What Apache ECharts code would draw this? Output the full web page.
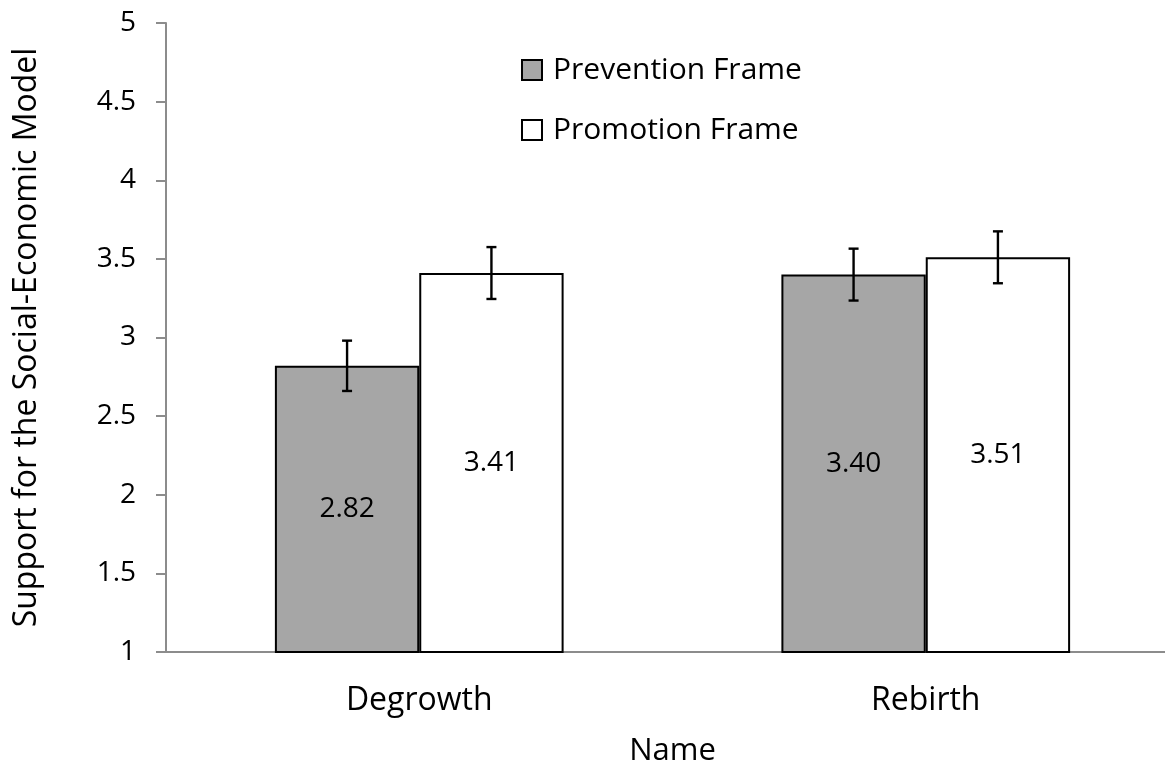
<!DOCTYPE html>
<html>
<head>
<meta charset="utf-8">
<script src="https://cdn.jsdelivr.net/npm/echarts@6/dist/echarts.min.js"></script>
<style>
html,body{margin:0;padding:0;background:#fff;}
#chart{width:1165px;height:768px;}
</style>
</head>
<body>
<div id="chart"></div>
<script>
const categories = ['Degrowth', 'Rebirth'];
const seriesNames = ['Prevention Frame', 'Promotion Frame'];
const prevention = [2.82, 3.40];
const promotion = [3.41, 3.51];
const preventionErr = [0.16, 0.165];
const promotionErr = [0.165, 0.165];
const yTicks = ['1', '1.5', '2', '2.5', '3', '3.5', '4', '4.5', '5'];

const FONT = 'Open Sans';
const BAR_PCT = 0.285;

const errData = [];
categories.forEach((c, i) => {
  errData.push([i, 0, prevention[i] - preventionErr[i], prevention[i] + preventionErr[i]]);
  errData.push([i, 1, promotion[i] - promotionErr[i], promotion[i] + promotionErr[i]]);
});

function renderErr(params, api) {
  const cat = api.value(0);
  const s = api.value(1);
  const lo = api.value(2);
  const hi = api.value(3);
  const band = api.size([1, 0])[0];
  const bw = band * BAR_PCT;
  const off = s === 0 ? -bw / 2 : bw / 2;
  const pLo = api.coord([cat, lo]);
  const pHi = api.coord([cat, hi]);
  const x = pLo[0] + off;
  const cap = 5;
  const style = { stroke: '#000', lineWidth: 2.4 };
  return {
    type: 'group',
    children: [
      { type: 'line', shape: { x1: x, y1: pLo[1], x2: x, y2: pHi[1] }, style },
      { type: 'line', shape: { x1: x - cap, y1: pLo[1], x2: x + cap, y2: pLo[1] }, style },
      { type: 'line', shape: { x1: x - cap, y1: pHi[1], x2: x + cap, y2: pHi[1] }, style }
    ]
  };
}

const chart = echarts.init(document.getElementById('chart'), null, { renderer: 'canvas' });
chart.setOption({
  animation: false,
  backgroundColor: '#ffffff',
  textStyle: { fontFamily: FONT },
  grid: { left: 166, right: -14, top: 23, bottom: 116, containLabel: false, outerBoundsMode: 'none' },
  legend: {
    orient: 'vertical',
    left: 521,
    top: 55,
    padding: 0,
    itemWidth: 20,
    itemHeight: 20,
    itemGap: 30,
    data: seriesNames,
    icon: 'rect',
    textStyle: { fontFamily: FONT, fontSize: 30, lineHeight: 30, color: '#000', padding: [0, 0, 0, 6] }
  },
  xAxis: {
    type: 'category',
    data: categories,
    name: 'Name',
    nameLocation: 'middle',
    nameGap: 84,
    nameTextStyle: { fontFamily: FONT, fontSize: 31, color: '#000' },
    axisLine: { show: true, lineStyle: { color: '#8c8c8c', width: 2 } },
    axisTick: { show: false },
    axisLabel: { fontFamily: FONT, fontSize: 32, color: '#000', margin: 33 },
    splitLine: { show: false }
  },
  yAxis: {
    type: 'value',
    min: 1,
    max: 5,
    interval: 0.5,
    name: 'Support for the Social-Economic Model',
    nameLocation: 'middle',
    nameGap: 123,
    nameTextStyle: { fontFamily: FONT, fontSize: 32, color: '#000' },
    axisLine: { show: true, lineStyle: { color: '#8c8c8c', width: 2 } },
    axisTick: { show: true, inside: false, length: 10, lineStyle: { color: '#8c8c8c', width: 2 } },
    axisLabel: {
      fontFamily: FONT, fontSize: 28, color: '#000', margin: 30,
      formatter: (v) => { const i = Math.round((v - 1) / 0.5); return yTicks[i] !== undefined ? yTicks[i] : ''; }
    },
    splitLine: { show: false }
  },
  series: [
    {
      name: seriesNames[0],
      type: 'bar',
      data: prevention,
      barWidth: (BAR_PCT * 100) + '%',
      barGap: '0%',
      itemStyle: { color: '#a6a6a6', borderColor: '#000', borderWidth: 2 },
      label: { show: true, position: 'inside', fontFamily: FONT, fontSize: 28, color: '#000', formatter: (p) => p.value.toFixed(2) },
      z: 2
    },
    {
      name: seriesNames[1],
      type: 'bar',
      data: promotion,
      barWidth: (BAR_PCT * 100) + '%',
      barGap: '0%',
      itemStyle: { color: '#ffffff', borderColor: '#000', borderWidth: 2 },
      label: { show: true, position: 'inside', fontFamily: FONT, fontSize: 28, color: '#000', formatter: (p) => p.value.toFixed(2) },
      z: 2
    },
    {
      type: 'custom',
      renderItem: renderErr,
      data: errData,
      encode: { x: 0, y: [2, 3] },
      z: 5,
      silent: true
    }
  ]
});
</script>
</body>
</html>
